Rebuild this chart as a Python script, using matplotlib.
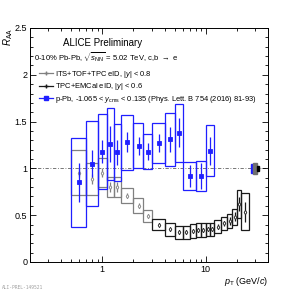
import numpy as np
import matplotlib.pyplot as plt
from matplotlib.patches import Rectangle
from matplotlib.lines import Line2D
from matplotlib.ticker import MultipleLocator, FixedLocator, NullFormatter, FixedFormatter, LogLocator

plt.rcParams['font.family'] = ['Liberation Sans', 'DejaVu Sans']
plt.rcParams['mathtext.fontset'] = 'custom'
plt.rcParams['mathtext.rm'] = 'Liberation Sans'
plt.rcParams['mathtext.it'] = 'Liberation Sans:italic'
plt.rcParams['mathtext.sf'] = 'Liberation Sans'

# ITS+TOF+TPC eID (Pb-Pb 0-10%)
its_edges = [0.5, 0.7, 0.9, 1.1, 1.3, 1.5, 2.0, 2.5, 3.0]
its_pt = [0.6, 0.8, 1.0, 1.2, 1.4, 1.75, 2.25, 2.75]
its_raa = [0.955, 0.885, 0.955, 0.80, 0.80, 0.71, 0.60, 0.49]
its_stat = [0.05, 0.05, 0.05, 0.05, 0.05, 0.03, 0.025, 0.02]
its_sys = [0.24, 0.17, 0.155, 0.107, 0.107, 0.085, 0.08, 0.063]

# TPC+EMCal eID (Pb-Pb 0-10%)
emc_edges = [3, 4, 5, 6, 7, 8, 9, 10, 11, 12, 14, 16, 18, 20, 22, 26]
emc_pt = [3.5, 4.5, 5.5, 6.5, 7.5, 8.5, 9.5, 10.5, 11.5, 13, 15, 17, 19, 21, 24]
emc_raa = [0.40, 0.35, 0.317, 0.317, 0.331, 0.342, 0.342, 0.35, 0.35,
           0.377, 0.413, 0.438, 0.484, 0.62, 0.537]
emc_stat = [0.015, 0.015, 0.02, 0.02, 0.02, 0.02, 0.02, 0.02, 0.02,
            0.025, 0.03, 0.04, 0.05, 0.07, 0.105]
emc_sys = [0.063, 0.071, 0.071, 0.071, 0.07, 0.07, 0.07, 0.07, 0.07,
           0.067, 0.067, 0.071, 0.087, 0.15, 0.195]

# p-Pb reference
ppb_edges = [0.5, 0.7, 0.9, 1.1, 1.3, 1.5, 2.0, 2.5, 3.0, 4.0, 5.0, 6.0, 8.0, 10.0, 12.0]
ppb_pt = [0.6, 0.8, 1.0, 1.2, 1.4, 1.75, 2.25, 2.75, 3.5, 4.5, 5.5, 7.0, 9.0, 11.0]
ppb_raa = [0.85, 1.05, 1.18, 1.26, 1.17, 1.28, 1.24, 1.18, 1.27, 1.31, 1.38, 0.92, 0.92, 1.19]
ppb_stat = [0.21, 0.145, 0.12, 0.19, 0.135, 0.11, 0.095, 0.09, 0.095, 0.13, 0.155, 0.115, 0.14, 0.15]
ppb_sys = [0.475, 0.455, 0.405, 0.385, 0.30, 0.295, 0.24, 0.19, 0.21, 0.28, 0.31, 0.15, 0.16, 0.27]

# normalisation uncertainties (p-Pb, ITS, EMCal)
norm_unc = [0.045, 0.06, 0.03]

c_its = '#808080'
c_emc = '#1a1a1a'
c_ppb = '#1f1fff'

fig = plt.figure(figsize=(2.98, 2.91), dpi=100)
ax = fig.add_axes([0.1007, 0.0997, 0.7986, 0.8041])
ax.set_xscale('log')
ax.set_xlim(0.2, 40)
ax.set_ylim(0, 2.5)


def draw(edges, pt, raa, stat, sys, color, marker, mfc, ms, z):
    for lo, hi, y, s in zip(edges[:-1], edges[1:], raa, sys):
        ax.add_patch(Rectangle((lo, y - s), hi - lo, 2 * s, fill=False,
                               ec=color, lw=0.9, zorder=z))
    ax.errorbar(pt, raa, yerr=stat, fmt=marker, color=color, mfc=mfc,
                mec=color, ms=ms, mew=0.6, elinewidth=0.9, capsize=0, zorder=z + 1)


ax.axhline(1, color='#606060', ls=(0, (4, 2, 1, 2)), lw=0.6, zorder=1)

draw(its_edges, its_pt, its_raa, its_stat, its_sys, c_its, 'd', 'white', 2.2, 3)
draw(emc_edges, emc_pt, emc_raa, emc_stat, emc_sys, c_emc, 'd', 'white', 2.2, 3)
draw(ppb_edges, ppb_pt, ppb_raa, ppb_stat, ppb_sys, c_ppb, 's', c_ppb, 2.6, 5)

# normalisation boxes at right
ax.add_patch(Rectangle((27.2, 1 - norm_unc[0]), 1.7, 2 * norm_unc[0], color=c_ppb, zorder=6))
ax.add_patch(Rectangle((28.9, 1 - norm_unc[1]), 2.1, 2 * norm_unc[1], color='#707070', zorder=6))
ax.add_patch(Rectangle((31.0, 1 - norm_unc[2]), 1.6, 2 * norm_unc[2], color='black', zorder=7))

ax.xaxis.set_major_locator(FixedLocator([1, 10]))
ax.xaxis.set_major_formatter(FixedFormatter(['1', '10']))
ax.xaxis.set_minor_locator(LogLocator(base=10, subs=np.arange(2, 10)))
ax.xaxis.set_minor_formatter(NullFormatter())
ax.yaxis.set_major_locator(MultipleLocator(0.5))
ax.yaxis.set_minor_locator(MultipleLocator(0.1))
ax.yaxis.set_major_formatter(plt.FuncFormatter(lambda v, p: '%g' % v))
ax.tick_params(which='both', direction='in', top=True, right=True, width=0.6,
               labelsize=6.5, pad=2)
ax.tick_params(which='major', length=4.5)
ax.tick_params(which='minor', length=2.2)
for sp in ax.spines.values():
    sp.set_linewidth(0.7)

ax.set_ylabel(r'$R_{\rm AA}$', fontsize=7, loc='top', labelpad=0)
ax.set_xlabel(r'$p_{\rm T}$ (GeV/$c$)', fontsize=6.5, loc='right', labelpad=1)

ax.text(0.139, 0.937, 'ALICE Preliminary', transform=ax.transAxes, fontsize=7,
        va='center', ha='left')
ax.text(0.017, 0.876, r'0-10% Pb-Pb, $\sqrt{s_{\rm NN}}$ = 5.02 TeV, c,b $\rightarrow$ e',
        transform=ax.transAxes, fontsize=5.5, va='center', ha='left')

handles = [
    Line2D([], [], color=c_its, marker='+', ms=3, lw=0.9),
    Line2D([], [], color=c_emc, marker='+', ms=3, lw=0.9),
    Line2D([], [], color=c_ppb, marker='s', ms=2.6, lw=0.9),
]
labels = [
    r'ITS+TOF+TPC eID, $|y|$ < 0.8',
    r'TPC+EMCal eID, $|y|$ < 0.6',
    r'p-Pb, -1.065 < $y_{\rm cms}$ < 0.135 (Phys. Lett. B 754 (2016) 81-93)',
]
ax.legend(handles, labels, loc='upper left', bbox_to_anchor=(0.038, 0.826),
          frameon=False, fontsize=5.4, handlelength=1.8, handletextpad=0.3,
          labelspacing=0.2, borderpad=0, borderaxespad=0)

fig.text(0.005, 0.008, 'ALI-PREL-149521', fontsize=3.3, color='#a0a0a0',
         family='DejaVu Sans Mono')

fig.savefig('out.png', dpi=100)
